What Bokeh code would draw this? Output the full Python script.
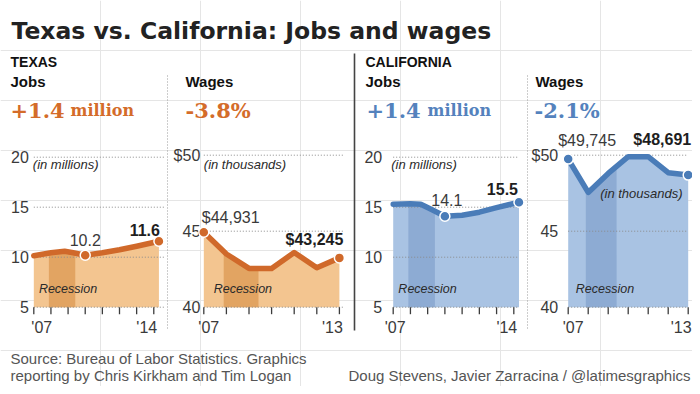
import numpy as np
from bokeh.plotting import figure
from bokeh.models import Range1d
from bokeh.core.properties import value
from bokeh.embed import file_html
from bokeh.resources import INLINE

# ---------------- data ----------------
recession = [2007.88, 2009.42]

tx_jobs_x = [2007, 2008, 2008.8, 2009.3, 2010, 2011, 2012, 2013, 2014.3]
tx_jobs_y = [10.15, 10.45, 10.6, 10.45, 10.2, 10.45, 10.75, 11.1, 11.6]

tx_wage_x = [2007, 2008, 2009, 2010, 2011, 2012, 2013]
tx_wage_y = [44.931, 43.5, 42.55, 42.55, 43.6, 42.6, 43.245]

ca_jobs_x = [2007, 2008, 2008.6, 2009.2, 2010, 2011, 2012, 2013, 2014.3]
ca_jobs_y = [15.3, 15.35, 15.3, 14.8, 14.1, 14.2, 14.5, 14.95, 15.5]

ca_wage_x = [2007, 2008, 2009, 2010, 2011, 2012, 2013]
ca_wage_y = [49.745, 47.55, 48.8, 49.9, 49.9, 48.85, 48.691]

jobs_ticks = [5, 10, 15, 20]
jobs_tick_labels = ["5", "10", "15", "20"]
wage_ticks = [40, 45, 50]
wage_tick_labels = ["40", "45", "$50"]
jobs_years = [2007, 2008, 2009, 2010, 2011, 2012, 2013, 2014]
wage_years = [2007, 2008, 2009, 2010, 2011, 2012, 2013]
jobs_year_labels = ["'07", "'14"]
wage_year_labels = ["'07", "'13"]

tx_jobs_call_x = [2010, 2014.3]
tx_jobs_call_y = [10.2, 11.6]
tx_jobs_call_t = ["10.2", "11.6"]
tx_wage_call_x = [2007, 2013]
tx_wage_call_y = [44.931, 43.245]
tx_wage_call_t = ["$44,931", "$43,245"]
ca_jobs_call_x = [2010, 2014.3]
ca_jobs_call_y = [14.1, 15.5]
ca_jobs_call_t = ["14.1", "15.5"]
ca_wage_call_x = [2007, 2013]
ca_wage_call_y = [49.745, 48.691]
ca_wage_call_t = ["$49,745", "$48,691"]

title = "Texas vs. California: Jobs and wages"
tx_jobs_change = ["+1.4", "million"]
tx_wage_change = "-3.8%"
ca_jobs_change = ["+1.4", "million"]
ca_wage_change = "-2.1%"
footer_left = ["Source: Bureau of Labor Statistics. Graphics",
               "reporting by Chris Kirkham and Tim Logan"]
footer_right = "Doug Stevens, Javier Zarracina / @latimesgraphics"

# ---------------- styles ----------------
ORANGE_LINE = "#d0692a"
ORANGE_TEXT = "#d46c2a"
ORANGE_AREA = "#f3c590"
ORANGE_BAND = "#e2a462"
BLUE_LINE = "#4a7cb8"
BLUE_TEXT = "#5482bd"
BLUE_AREA = "#a9c3e3"
BLUE_BAND = "#8dabd3"
DARK = "#1e1e1e"
TICK_C = "#3c3c3c"

W, H = 692, 386
p = figure(width=W, height=H, x_range=Range1d(0, W), y_range=Range1d(H, 0),
           x_axis_location=None, y_axis_location=None, toolbar_location=None,
           output_backend="svg", min_border=0, outline_line_color=None,
           background_fill_color="white", border_fill_color="white")

BASE_FIX = -5


def label(xs, ys, texts, size, color, font="Liberation Sans", style="normal",
          align="left", baseline="alphabetic", dx=0, dy=0, rn="default"):
    if baseline == "alphabetic":
        dy = dy + BASE_FIX
    p.text(x=xs, y=ys, text=texts, text_font=value(font), text_font_size=f"{size}px",
           text_font_style=style, text_color=color, text_align=align,
           text_baseline=baseline, x_offset=dx, y_offset=dy,
           x_range_name=rn, y_range_name=rn)


xranges, yranges = {}, {}


def make_ranges(name, x0, px0, kx, y0, py0, ky):
    xranges[name] = Range1d(x0 - px0 / kx, x0 + (W - px0) / kx)
    yranges[name] = Range1d(y0 - (H - py0) / ky, y0 + py0 / ky)


make_ranges("tj", 2007, 33.3, 17.14, 5, 306.7, 10.0)
make_ranges("tw", 2007, 203.3, 22.6, 40, 306.7, 15.2)
make_ranges("cj", 2007, 392.7, 17.23, 5, 306.7, 10.0)
make_ranges("cw", 2007, 567.7, 20.0, 40, 306.7, 15.2)
p.extra_x_ranges = xranges
p.extra_y_ranges = yranges


def panel(rn, xs, ys, ticks, tick_labels, years, year_labels, ky,
          line_c, area_c, band_c, grid_end, ylab_dx, first_dx):
    base = ticks[0]
    kw = dict(x_range_name=rn, y_range_name=rn)
    # area
    p.varea(x=xs, y1=[base] * len(xs), y2=ys, fill_color=area_c, **kw)
    # recession band
    a, b = recession
    bx = [a] + [x for x in xs if a < x < b] + [b]
    by = list(np.interp(bx, xs, ys))
    p.varea(x=bx, y1=[base] * len(bx), y2=by, fill_color=band_c, **kw)
    # gridlines
    p.segment(x0=[years[0]] * len(ticks), y0=ticks, x1=[grid_end] * len(ticks), y1=ticks,
              line_color="#8a8a8a", line_dash="1 2", line_width=1, **kw)
    # x ticks
    p.segment(x0=years, y0=[base] * len(years), x1=years,
              y1=[base - 7.0 / ky] * len(years), line_color=TICK_C, line_width=1.3, **kw)
    # y tick labels
    label([years[0]] * len(ticks), ticks, tick_labels, 16, "#3a3a3a",
          align="right", baseline="middle", dx=ylab_dx, rn=rn)
    # x tick labels
    label([years[0]], [base], [year_labels[0]], 16, "#3a3a3a", align="center",
          dx=first_dx, dy=25, rn=rn)
    label([years[-1]], [base], [year_labels[1]], 16, "#3a3a3a", align="center",
          dx=-7, dy=25, rn=rn)
    # recession label
    label([recession[0]], [base], ["Recession"], 12.5, "#2a2a2a", style="italic",
          dx=-10, dy=-13.5, rn=rn)
    # line
    p.line(x=xs, y=ys, line_color=line_c, line_width=5.5, line_join="round",
           line_cap="round", **kw)


panel("tj", tx_jobs_x, tx_jobs_y, jobs_ticks, jobs_tick_labels, jobs_years,
      jobs_year_labels, 10.0, ORANGE_LINE, ORANGE_AREA, ORANGE_BAND, 2014.7, -5, 8)
panel("tw", tx_wage_x, tx_wage_y, wage_ticks, wage_tick_labels, wage_years,
      wage_year_labels, 15.2, ORANGE_LINE, ORANGE_AREA, ORANGE_BAND, 2013.15, -3.5, 5)
panel("cj", ca_jobs_x, ca_jobs_y, jobs_ticks, jobs_tick_labels, jobs_years,
      jobs_year_labels, 10.0, BLUE_LINE, BLUE_AREA, BLUE_BAND, 2014.3, -11, 2)
panel("cw", ca_wage_x, ca_wage_y, wage_ticks, wage_tick_labels, wage_years,
      wage_year_labels, 15.2, BLUE_LINE, BLUE_AREA, BLUE_BAND, 2013.0, -10, 5)

# "in millions / thousands" notes
label([2007], [5], ["(in millions)"], 13, "#2a2a2a", style="italic", dx=-1, dy=-137.5, rn="tj")
label([2007], [40], ["(in thousands)"], 13, "#2a2a2a", style="italic", dx=0, dy=-137.5, rn="tw")
label([2007], [5], ["(in millions)"], 13, "#2a2a2a", style="italic", dx=-2, dy=-137.5, rn="cj")
label([2007], [40], ["(in thousands)"], 13, "#2a2a2a", style="italic", dx=32, dy=-108.5, rn="cw")

# callout dots + labels
for rn, cx, cy, ct, col in [("tj", tx_jobs_call_x, tx_jobs_call_y, tx_jobs_call_t, ORANGE_LINE),
                            ("tw", tx_wage_call_x, tx_wage_call_y, tx_wage_call_t, ORANGE_LINE),
                            ("cj", ca_jobs_call_x, ca_jobs_call_y, ca_jobs_call_t, BLUE_LINE),
                            ("cw", ca_wage_call_x, ca_wage_call_y, ca_wage_call_t, BLUE_LINE)]:
    p.scatter(x=cx, y=cy, size=10, fill_color=col, line_color="white", line_width=1.5,
              x_range_name=rn, y_range_name=rn)

label([tx_jobs_call_x[0]], [tx_jobs_call_y[0]], [tx_jobs_call_t[0]], 16, "#3a3a3a",
      align="center", dy=-10, rn="tj")
label([tx_jobs_call_x[1]], [tx_jobs_call_y[1]], [tx_jobs_call_t[1]], 16, DARK,
      style="bold", align="right", dx=1, dy=-6, rn="tj")
label([tx_wage_call_x[0]], [tx_wage_call_y[0]], [tx_wage_call_t[0]], 16, "#3a3a3a",
      align="left", dx=-2, dy=-10, rn="tw")
label([tx_wage_call_x[1]], [tx_wage_call_y[1]], [tx_wage_call_t[1]], 16, DARK,
      style="bold", align="right", dx=4, dy=-13, rn="tw")
label([ca_jobs_call_x[0]], [ca_jobs_call_y[0]], [ca_jobs_call_t[0]], 16, "#3a3a3a",
      align="center", dx=2, dy=-11, rn="cj")
label([ca_jobs_call_x[1]], [ca_jobs_call_y[1]], [ca_jobs_call_t[1]], 16, DARK,
      style="bold", align="right", dx=-1, dy=-8, rn="cj")
label([ca_wage_call_x[0]], [ca_wage_call_y[0]], [ca_wage_call_t[0]], 16, "#3a3a3a",
      align="left", dx=-10, dy=-14, rn="cw")
label([ca_wage_call_x[1]], [ca_wage_call_y[1]], [ca_wage_call_t[1]], 16, DARK,
      style="bold", align="right", dx=3, dy=-30.5, rn="cw")

# separators
p.segment(x0=[167, 527], y0=[75, 75], x1=[167, 527], y1=[330, 330],
          line_color="#9a9a9a", line_dash="1 2", line_width=1)
p.segment(x0=[354], y0=[53], x1=[354], y1=[330], line_color="#444444", line_width=1.6)

# headers
label([11], [35], [title], 23.5, "#222222", font="DejaVu Sans", style="bold")
label([10], [66.5], ["TEXAS"], 14, "#111111", style="bold")
label([10], [86], ["Jobs"], 15, "#111111", style="bold")
label([185], [86], ["Wages"], 15, "#111111", style="bold")
label([365], [66], ["CALIFORNIA"], 14, "#111111", style="bold")
label([365], [86], ["Jobs"], 15, "#111111", style="bold")
label([535], [86], ["Wages"], 15, "#111111", style="bold")

label([10], [115], [tx_jobs_change[0]], 21, ORANGE_TEXT, font="DejaVu Serif", style="bold")
label([70], [115], [tx_jobs_change[1]], 16, ORANGE_TEXT, font="DejaVu Serif", style="bold")
label([185], [115], [tx_wage_change], 21, ORANGE_TEXT, font="DejaVu Serif", style="bold")
label([366], [115], [ca_jobs_change[0]], 21, BLUE_TEXT, font="DejaVu Serif", style="bold")
label([427], [115], [ca_jobs_change[1]], 16, BLUE_TEXT, font="DejaVu Serif", style="bold")
label([534], [115], [ca_wage_change], 21, BLUE_TEXT, font="DejaVu Serif", style="bold")

# footer
label([10, 10], [363, 380], footer_left, 15, "#555555")
label([690], [380], [footer_right], 15, "#555555", align="right")

open("out.html", "w").write(file_html(p, INLINE))
